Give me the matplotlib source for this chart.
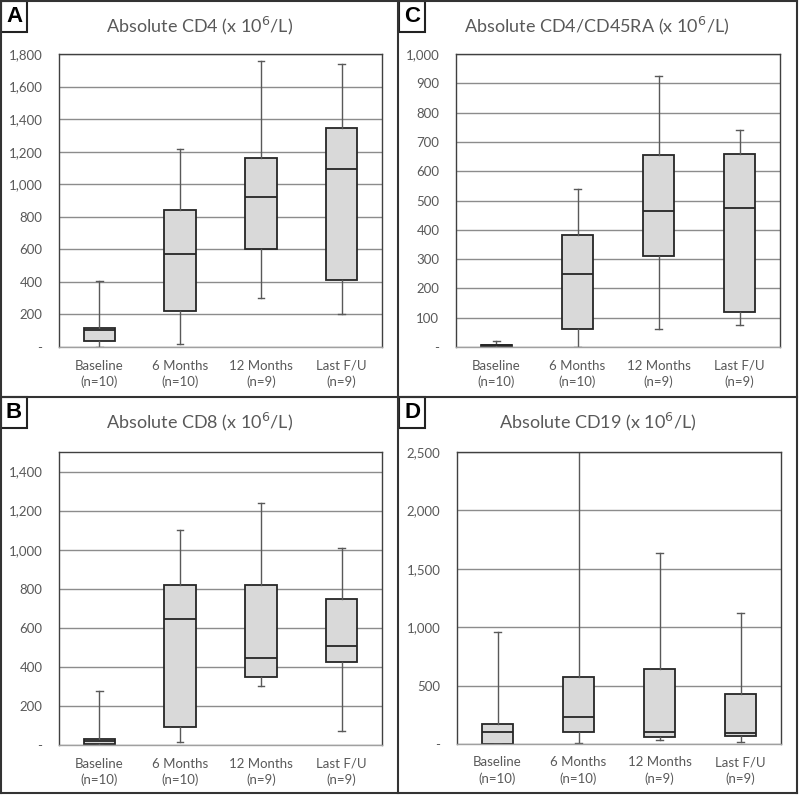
import matplotlib
matplotlib.use("Agg")
import matplotlib.pyplot as plt
from matplotlib.ticker import FuncFormatter
from matplotlib.patches import Rectangle
from matplotlib.lines import Line2D

# groups shared by all four panels
groups = ["Baseline\n(n=10)", "6 Months\n(n=10)", "12 Months\n(n=9)", "Last F/U\n(n=9)"]

# five-number summaries: min, q1, median, q3, max
cd4_lo  = [0, 20, 299, 205]
cd4_q1  = [35, 219, 602, 409]
cd4_med = [105, 573, 921, 1091]
cd4_q3  = [115, 839, 1159, 1345]
cd4_hi  = [403, 1218, 1760, 1738]

cd45_lo  = [0, 0, 63, 74]
cd45_q1  = [2, 63, 312, 118]
cd45_med = [6, 250, 464, 473]
cd45_q3  = [8, 382, 654, 660]
cd45_hi  = [19, 538, 925, 741]

cd8_lo  = [0, 14, 302, 72]
cd8_q1  = [6, 92, 350, 426]
cd8_med = [20, 643, 443, 505]
cd8_q3  = [31, 820, 818, 748]
cd8_hi  = [276, 1100, 1241, 1006]

cd19_lo  = [0, 6, 31, 17]
cd19_q1  = [0, 100, 60, 71]
cd19_med = [100, 234, 100, 91]
cd19_q3  = [171, 571, 642, 428]
cd19_hi  = [956, 2650, 1638, 1122]

W, H = 800, 795
GREY = "#595959"

fig = plt.figure(figsize=(W / 100, H / 100), dpi=100)
plt.rcParams["font.family"] = ["Lato", "DejaVu Sans"]


def px_axes(left, top, right, bottom):
    return fig.add_axes([left / W, (H - bottom) / H, (right - left) / W, (bottom - top) / H])


def fmt(v, pos):
    if abs(v) < 1e-9:
        return "-"
    return "{:,.0f}".format(v)


def panel(box, title, title_xy, lo, q1, med, q3, hi, ymax, step, tick_top):
    ax = px_axes(*box)
    stats = []
    for i in range(len(groups)):
        stats.append(dict(whislo=lo[i], q1=q1[i], med=med[i], q3=q3[i],
                          whishi=hi[i], fliers=[]))
    ax.bxp(stats, positions=range(1, len(groups) + 1), widths=0.39,
           showfliers=False, patch_artist=True,
           boxprops=dict(facecolor="#d9d9d9", edgecolor="#262626", linewidth=1.3),
           medianprops=dict(color="#262626", linewidth=1.3),
           whiskerprops=dict(color=GREY, linewidth=1.0),
           capprops=dict(color=GREY, linewidth=1.0),
           capwidths=0.08)
    ax.set_xlim(0.5, len(groups) + 0.5)
    ax.set_ylim(0, ymax)
    ax.set_yticks([v for v in range(0, tick_top + 1, step)])
    ax.yaxis.set_major_formatter(FuncFormatter(fmt))
    ax.set_xticks(range(1, len(groups) + 1))
    ax.set_xticklabels(groups, fontsize=9.5, color=GREY, linespacing=1.4)
    ax.tick_params(axis="y", labelsize=9.5, labelcolor=GREY, length=0, pad=12)
    ax.tick_params(axis="x", length=0, pad=9)
    ax.yaxis.grid(True, color="#8c8c8c", linewidth=1.0)
    ax.set_axisbelow(True)
    for s in ax.spines.values():
        s.set_color("#404040")
        s.set_linewidth(1.0)
    ax.spines["bottom"].set_color("#a0a0a0")
    fig.text(title_xy[0] / W, 1 - title_xy[1] / H, title, ha="center", va="center",
             fontsize=13, color=GREY)
    return ax


panel((59, 54, 382, 347), "Absolute CD4 (x 10$^{6}$/L)", (200, 26),
      cd4_lo, cd4_q1, cd4_med, cd4_q3, cd4_hi, 1800, 200, 1800)
panel((456, 54, 780, 347), "Absolute CD4/CD45RA (x 10$^{6}$/L)", (597, 26),
      cd45_lo, cd45_q1, cd45_med, cd45_q3, cd45_hi, 1000, 100, 1000)
panel((59, 452, 382, 745), "Absolute CD8 (x 10$^{6}$/L)", (200, 422),
      cd8_lo, cd8_q1, cd8_med, cd8_q3, cd8_hi, 1500, 200, 1400)
panel((457, 452, 781, 744), "Absolute CD19 (x 10$^{6}$/L)", (598, 422),
      cd19_lo, cd19_q1, cd19_med, cd19_q3, cd19_hi, 2500, 500, 2500)

# panel frames
def fig_line(x0, y0, x1, y1, lw=1.5):
    fig.add_artist(Line2D([x0 / W, x1 / W], [1 - y0 / H, 1 - y1 / H],
                          color="#333333", linewidth=lw))

fig_line(1, 1, 797, 1)
fig_line(1, 793, 797, 793)
fig_line(1, 1, 1, 793)
fig_line(797, 1, 797, 793)
fig_line(1, 397, 797, 397)
fig_line(398, 1, 398, 793)

# letter boxes
for letter, (x0, y0) in zip("ACBD", [(1, 1), (399, 1), (1, 397), (399, 397)]):
    fig.add_artist(Rectangle((x0 / W, 1 - (y0 + 31) / H), 26 / W, 31 / H,
                             facecolor="white", edgecolor="#222222", linewidth=1.5))
    fig.text((x0 + 13) / W, 1 - (y0 + 16) / H, letter, ha="center", va="center",
             fontsize=16, fontweight="heavy", family=["Liberation Sans", "DejaVu Sans"],
             color="black")

fig.savefig("out.png", dpi=100, facecolor="white")
